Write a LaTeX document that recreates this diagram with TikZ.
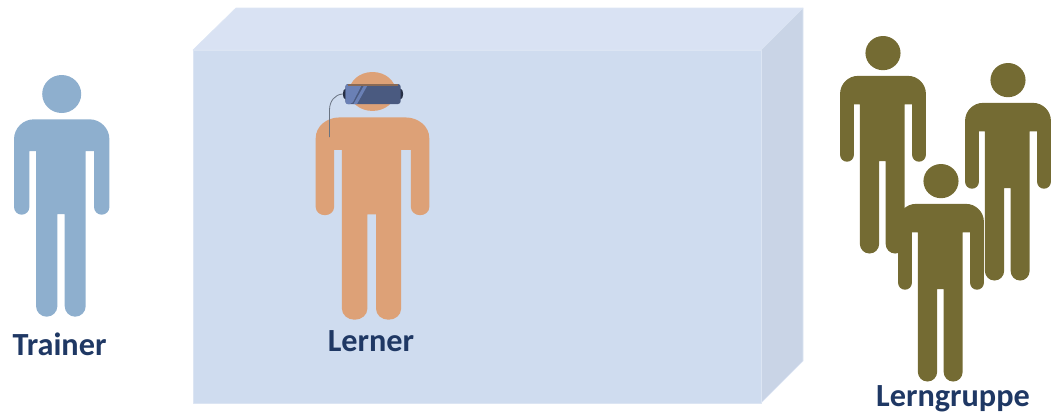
\documentclass[tikz,border=0pt]{standalone}
\usepackage{fontspec}
\setmainfont{Carlito}
\usetikzlibrary{shapes.geometric}
\definecolor{ink}{HTML}{1F3864}
\definecolor{frontbg}{HTML}{CFDCEF}
\definecolor{topbg}{HTML}{D9E2F3}
\definecolor{sidebg}{HTML}{C9D4E6}
\definecolor{boxedge}{HTML}{DCE5F3}
\definecolor{trainerblue}{HTML}{8EAFCE}
\definecolor{lernerorange}{HTML}{DDA177}
\definecolor{groupolive}{HTML}{746B33}
\definecolor{vrbody}{HTML}{4A5A80}
\definecolor{vrlight}{HTML}{6A80B5}
\definecolor{vrdark}{HTML}{262F45}
\definecolor{vrstrip}{HTML}{8A6A55}
\definecolor{cablegray}{HTML}{6A7482}
\tikzset{
  boxface/.style={draw=boxedge,line width=.5pt,line join=round},
  lbl/.style={font=\fontsize{24.2}{27}\selectfont\bfseries,text=ink,inner sep=0pt},
  headset/.style={fill=vrbody,rounded corners=2pt,minimum width=41.5pt,minimum height=15pt,inner sep=0pt},
  knob/.style={fill=vrdark,ellipse,inner sep=0pt,minimum width=4pt,minimum height=8pt},
  cable/.style={draw=cablegray,line width=.6pt},
  pics/person/.style={code={
    \path[pic actions] (0,19) ellipse (19.5 and 19);
    \path[pic actions] (-27.7,44.3) -- (27.7,44.3) arc[start angle=-90,end angle=0,radius=20]
      -- (47.7,132) arc[start angle=0,end angle=180,radius=7.7] -- (32.3,76) -- (24,76)
      -- (24,231.2) arc[start angle=0,end angle=180,radius=10.5]
      -- (3,139) -- (-4.3,139)
      -- (-4.3,231) arc[start angle=0,end angle=180,radius=10.7]
      -- (-25.7,76) -- (-32.3,76)
      -- (-32.3,132) arc[start angle=0,end angle=180,radius=7.7] -- (-47.7,64.3)
      arc[start angle=180,end angle=270,radius=20] -- cycle;
  }}
}
\begin{document}
\begin{tikzpicture}[x=.75pt,y=-.75pt]
  \useasboundingbox (0,0) rectangle (1051,415);
  % box
  \fill[topbg,boxface] (193,50)--(236,8)--(803,8)--(761,50)--cycle;
  \fill[sidebg,boxface] (761,50)--(803,8)--(803,361)--(761,403)--cycle;
  \fill[frontbg,boxface] (193,50) rectangle (761,403);

  % people
  \pic[fill=trainerblue] at (61.7,75) {person};
  \pic[fill=lernerorange,xscale=1.19,yscale=1.025] at (372.5,72) {person};
  \pic[fill=groupolive,xscale=.9,yscale=.9] at (883,36) {person};
  \pic[fill=groupolive,xscale=.9,yscale=.9] at (1008,63) {person};
  \pic[fill=groupolive,xscale=.9,yscale=.9] at (941,164) {person};

  % headset
  \node[knob] (knobl) at (345.5,94) {};
  \node[knob] (knobr) at (400.5,94) {};
  \node[headset] (vr) at (373,94) {};
  \fill[vrlight,rounded corners=1.5pt] (345.5,84.5)--(362,84.5)--(352,104)--(345.5,104)--cycle;
  \fill[vrlight] (364.5,84.5)--(368,84.5)--(357,104)--(353.5,104)--cycle;
  \fill[vrstrip] (348,83.5)--(398,83.5)--(398,85.5)--(348,85.5)--cycle;
  \coordinate (jack) at (329.5,137);
  \draw[cable] (jack) -- (329.5,110) .. controls (329.5,101) and (335,94.5) .. (knobl.west);

  \node[lbl] (trainer) at (59.5,344) {Trainer};
  \node[lbl] (lerner) at (371,341) {Lerner};
  \node[lbl] (group) at (953,399) {Lerngruppe};
\end{tikzpicture}
\end{document}
